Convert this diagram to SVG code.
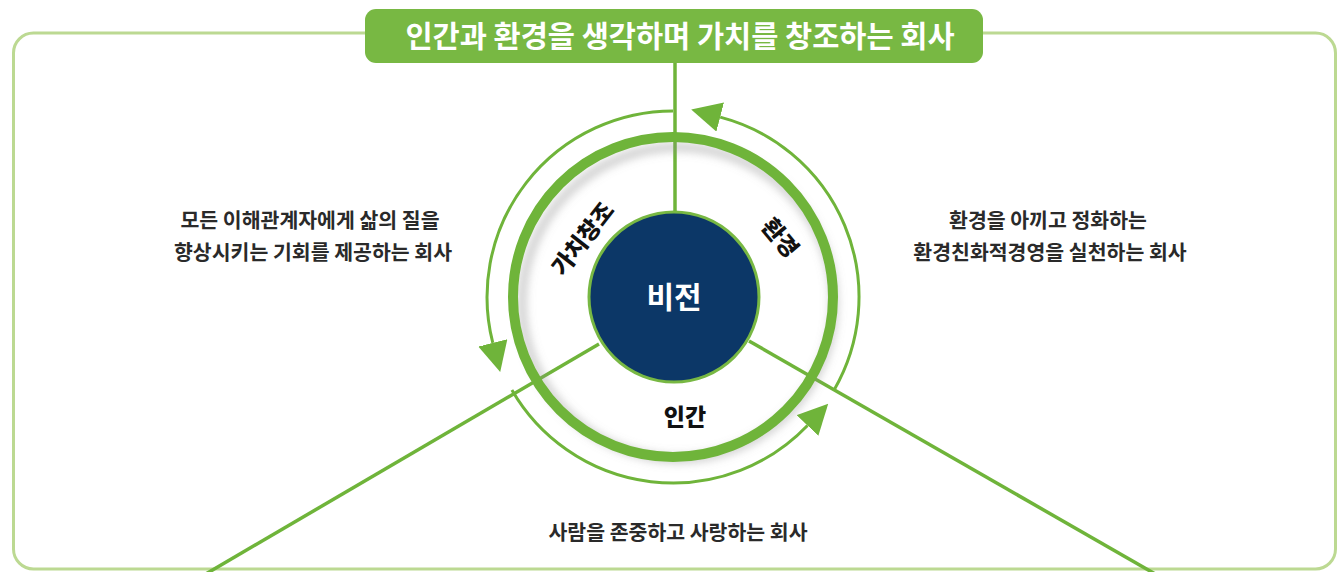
<svg xmlns="http://www.w3.org/2000/svg" width="1339" height="572" viewBox="0 0 1339 572">
  <style>
    .k { font-family: "Noto Sans CJK KR", "Noto Sans", sans-serif; }
    .desc { font-size: 20.5px; font-weight: 700; fill: #2a2a2a; text-anchor: middle; }
    .lbl { font-size: 23px; font-weight: 900; fill: #111; text-anchor: middle; }
    .conn { stroke: #6fb43a; stroke-width: 3.5; fill: none; }
    .arc { stroke: #6fb43a; stroke-width: 3; fill: none; }
  </style>
  <defs>
    <marker id="ah" markerUnits="userSpaceOnUse" markerWidth="30" markerHeight="30" refX="0" refY="13" orient="auto" viewBox="0 0 26 26">
      <path d="M0,0 L26,13 L0,26 z" fill="#6fb43a"/>
    </marker>
    <filter id="sh" x="-20%" y="-20%" width="140%" height="140%">
      <feGaussianBlur stdDeviation="4"/>
    </filter>
  </defs>
  <rect width="1339" height="572" fill="#ffffff"/>

  <g id="frame">
    <rect x="13.5" y="33" width="1322" height="536" rx="20" fill="none" stroke="#bcd992" stroke-width="3"/>
  </g>

  <g id="connectors">
    <line class="conn" x1="675" y1="62" x2="675" y2="213"/>
    <line class="conn" x1="599" y1="344" x2="204" y2="575"/>
    <line class="conn" x1="749" y1="341" x2="1157" y2="575"/>
    <path class="arc" d="M834.1,390 A186,186 0 0 0 720.2,117.1" marker-end="url(#ah)"/>
    <path class="arc" d="M673,111 A186,186 0 0 0 492.8,342.9" marker-end="url(#ah)"/>
    <path class="arc" d="M511.9,390 A186,186 0 0 0 807.5,425.5" marker-end="url(#ah)"/>
  </g>

  <g id="ring">
    <circle cx="678" cy="303" r="156" fill="none" stroke="#8a8a8a" stroke-opacity="0.4" stroke-width="9" filter="url(#sh)"/>
    <circle cx="673" cy="297" r="160" fill="none" stroke="#6fb43a" stroke-width="10"/>
    <text class="k lbl" transform="translate(583,239) rotate(-52)" x="0" y="8">가치창조</text>
    <text class="k lbl" transform="translate(780,238) rotate(50)" x="0" y="8">환경</text>
    <text class="k lbl" x="685" y="425">인간</text>
  </g>

  <g id="title">
    <rect x="365" y="9" width="618" height="54" rx="11" fill="#78b843"/>
    <text class="k" x="680" y="47" font-size="29.5" font-weight="700" fill="#ffffff" text-anchor="middle">인간과 환경을 생각하며 가치를 창조하는 회사</text>
  </g>

  <g id="vision">
    <circle cx="674" cy="297" r="85" fill="#0c3767" stroke="#78b843" stroke-width="3"/>
    <text class="k" x="674" y="308" font-size="30" font-weight="700" fill="#ffffff" text-anchor="middle">비전</text>
  </g>

  <g id="value-left">
    <text class="k desc" x="310" y="228">모든 이해관계자에게 삶의 질을</text>
    <text class="k desc" x="313" y="260">향상시키는 기회를 제공하는 회사</text>
  </g>

  <g id="value-right">
    <text class="k desc" x="1048" y="228">환경을 아끼고 정화하는</text>
    <text class="k desc" x="1050" y="260">환경친화적경영을 실천하는 회사</text>
  </g>

  <g id="value-bottom">
    <text class="k desc" x="678" y="540">사람을 존중하고 사랑하는 회사</text>
  </g>
</svg>
